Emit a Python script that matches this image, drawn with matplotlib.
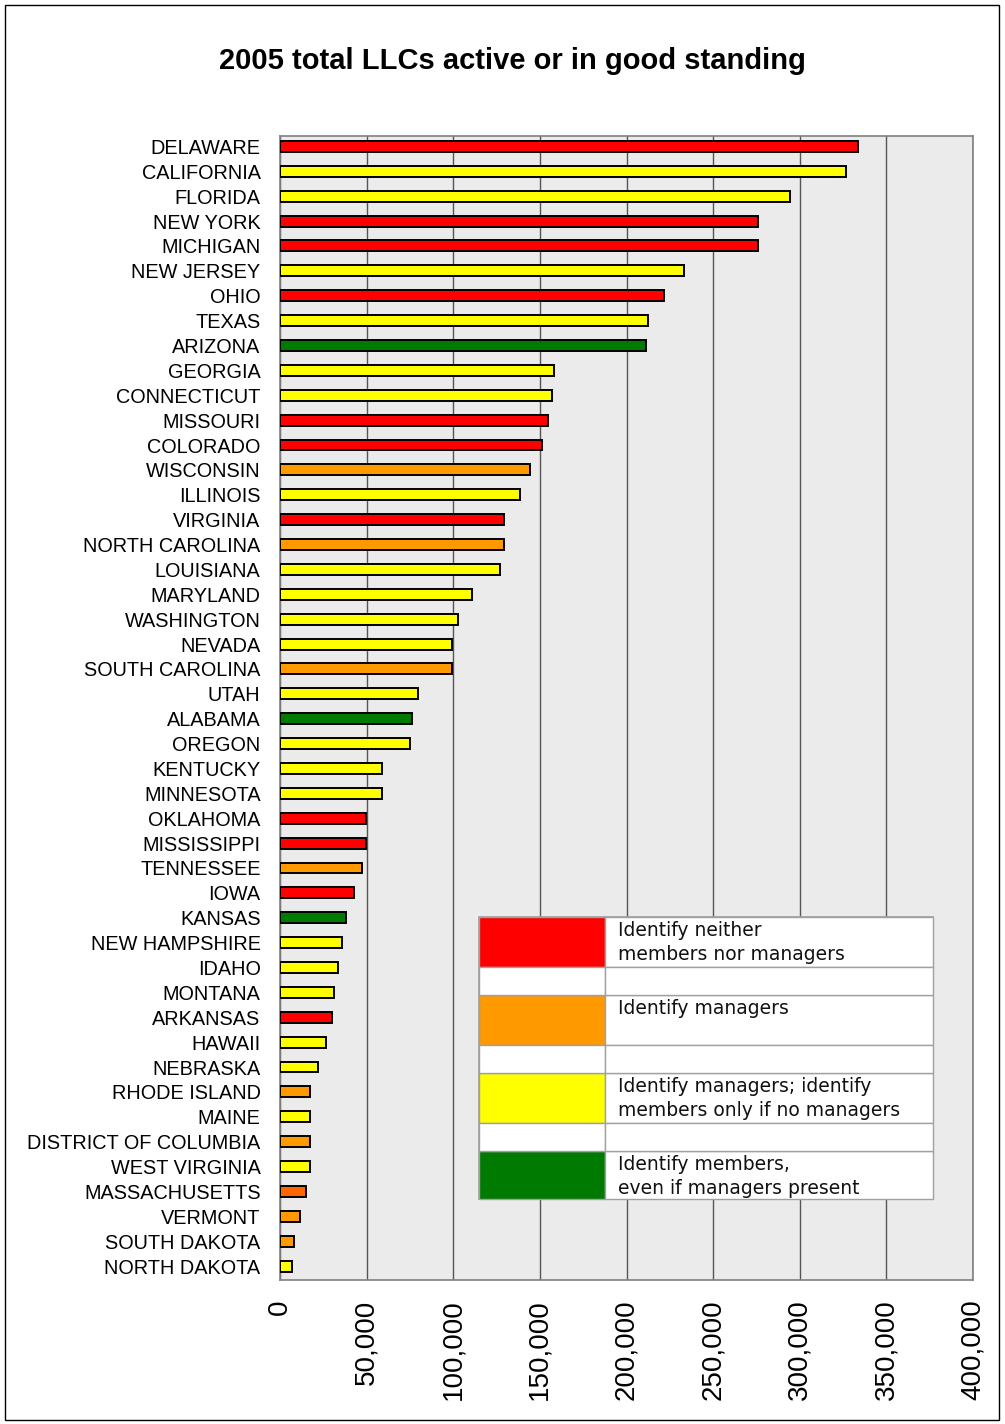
import matplotlib
matplotlib.use("Agg")
import matplotlib.pyplot as plt
from matplotlib.patches import Rectangle
import numpy as np

plt.rcParams['font.family'] = ['Liberation Sans', 'DejaVu Sans']

states = ["DELAWARE", "CALIFORNIA", "FLORIDA", "NEW YORK", "MICHIGAN", "NEW JERSEY",
          "OHIO", "TEXAS", "ARIZONA", "GEORGIA", "CONNECTICUT", "MISSOURI", "COLORADO",
          "WISCONSIN", "ILLINOIS", "VIRGINIA", "NORTH CAROLINA", "LOUISIANA", "MARYLAND",
          "WASHINGTON", "NEVADA", "SOUTH CAROLINA", "UTAH", "ALABAMA", "OREGON",
          "KENTUCKY", "MINNESOTA", "OKLAHOMA", "MISSISSIPPI", "TENNESSEE", "IOWA",
          "KANSAS", "NEW HAMPSHIRE", "IDAHO", "MONTANA", "ARKANSAS", "HAWAII",
          "NEBRASKA", "RHODE ISLAND", "MAINE", "DISTRICT OF COLUMBIA", "WEST VIRGINIA",
          "MASSACHUSETTS", "VERMONT", "SOUTH DAKOTA", "NORTH DAKOTA"]

llcs = [333600, 326700, 294400, 275900, 275900, 233200,
        221600, 212400, 211300, 158200, 157000, 154700, 151200,
        144300, 138500, 129300, 129300, 127000, 110800,
        102700, 99300, 99300, 79700, 76200, 75000,
        58900, 58900, 49600, 49600, 47300, 42700,
        38100, 35800, 33500, 31200, 30000, 26600,
        21900, 17300, 17300, 17300, 17300,
        15000, 11500, 8100, 6900]

# category code: R = neither, O = managers, Y = managers/members if none, G = members, M = (darker orange)
category = ["R", "Y", "Y", "R", "R", "Y",
            "R", "Y", "G", "Y", "Y", "R", "R",
            "O", "Y", "R", "O", "Y", "Y",
            "Y", "Y", "O", "Y", "G", "Y",
            "Y", "Y", "R", "R", "O", "R",
            "G", "Y", "Y", "Y", "R", "Y",
            "Y", "O", "Y", "O", "Y",
            "M", "O", "O", "Y"]

color_map = {"R": "#FF0000", "O": "#FF9900", "Y": "#FFFF00", "G": "#007A00", "M": "#FF6600"}

legend_labels = ["Identify neither\nmembers nor managers",
                 "Identify managers",
                 "Identify managers; identify\nmembers only if no managers",
                 "Identify members,\neven if managers present"]
legend_keys = ["R", "O", "Y", "G"]

xticks = [0, 50000, 100000, 150000, 200000, 250000, 300000, 350000, 400000]

W, H = 1005, 1424
fig = plt.figure(figsize=(W / 100, H / 100), dpi=100)
fig.patch.set_facecolor("white")
# outer border
fig.add_artist(Rectangle((5 / W, 4 / H), (999 - 5) / W, (1419 - 4) / H, transform=fig.transFigure,
                         fill=False, edgecolor="black", linewidth=1.0))

ax = fig.add_axes([280 / W, 1 - 1280 / H, 693 / W, (1280 - 136) / H])
ax.set_facecolor("#EBEBEB")

y = np.arange(len(states))
ax.barh(y, llcs, height=0.44, color=[color_map[c] for c in category],
        edgecolor="black", linewidth=1.4, zorder=3)

ax.set_xlim(0, 400000)
ax.set_ylim(len(states) - 0.44, -0.42)
ax.set_xticks(xticks)
ax.set_xticklabels([f"{v:,}" for v in xticks], rotation=90, fontsize=20, va="top", ha="center")
ax.tick_params(axis="x", length=0, pad=14)
ax.set_yticks(y)
ax.set_yticklabels(states, fontsize=14.3)
ax.tick_params(axis="y", length=0, pad=14)
ax.grid(axis="x", color="#555555", linewidth=1.0, zorder=1)
ax.set_axisbelow(True)
for s in ax.spines.values():
    s.set_color("#808080")
    s.set_linewidth(1.2)

fig.text(512 / W, 1 - 61 / H, "2005 total LLCs active or in good standing",
         ha="center", va="center", fontsize=21, fontweight="bold")

# legend as table
lx0, lx1, sx = 479, 933, 605
rows = [(917, 967), (995, 1045), (1073, 1123), (1151, 1199)]
gaps = [(967, 995), (1045, 1073), (1123, 1151)]
def fr(x0, y0, x1, y1, **kw):
    fig.add_artist(Rectangle((x0 / W, 1 - y1 / H), (x1 - x0) / W, (y1 - y0) / H,
                             transform=fig.transFigure, **kw))
fr(lx0, 917, lx1, 1199, facecolor="white", edgecolor="#A0A0A0", linewidth=1.2, zorder=5)
for (y0, y1), key, lab in zip(rows, legend_keys, legend_labels):
    fr(lx0, y0, sx, y1, facecolor=color_map[key], edgecolor="#A0A0A0", linewidth=1.0, zorder=6)
    fr(sx, y0, lx1, y1, facecolor="white", edgecolor="#A0A0A0", linewidth=1.0, zorder=6)
    for i, line in enumerate(lab.split("\n")):
        fig.text(618 / W, 1 - (y0 + 14 + 24 * i) / H, line, ha="left", va="center",
                 fontsize=13.5, family="DejaVu Sans", color="#111111", zorder=7)
for (y0, y1) in gaps:
    fr(lx0, y0, sx, y1, facecolor="white", edgecolor="#A0A0A0", linewidth=1.0, zorder=6)
    fr(sx, y0, lx1, y1, facecolor="white", edgecolor="#A0A0A0", linewidth=1.0, zorder=6)

fig.savefig("out.png", dpi=100)
